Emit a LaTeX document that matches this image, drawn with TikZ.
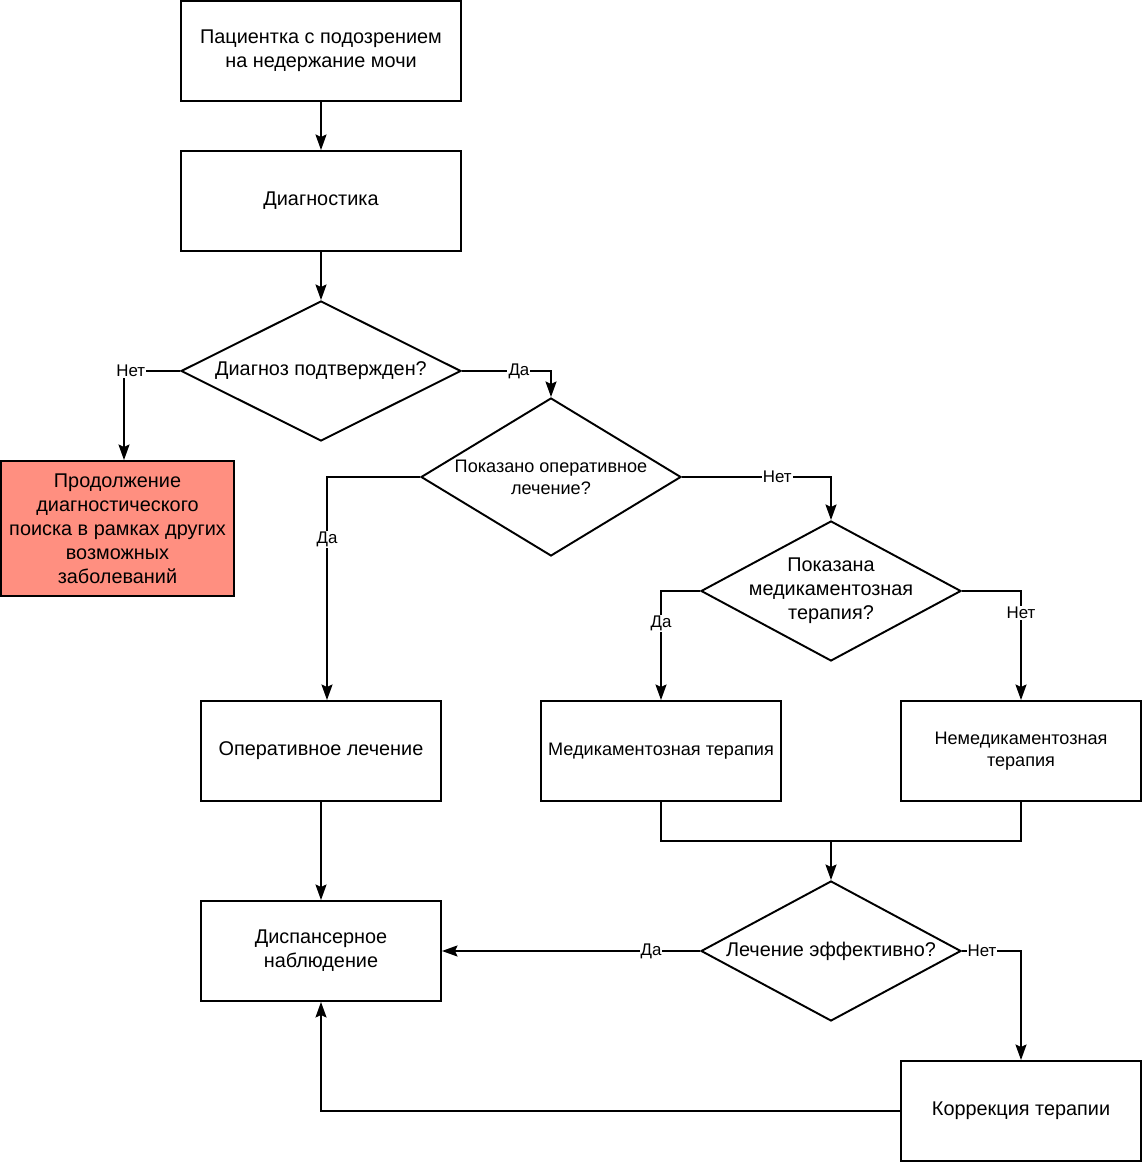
\documentclass[tikz,border=0pt]{standalone}
\usepackage{fontspec}
\setmainfont{Liberation Sans}
\usetikzlibrary{arrows.meta}
\usetikzlibrary{shapes.geometric}
\tikzset{>={Stealth[length=0.31cm,width=0.22cm,inset=0.05cm]}}
\definecolor{searchFill}{RGB}{255,143,128}
\tikzset{
  mainText/.style={font=\fontsize{11.3}{13.7}\selectfont},
  smallText/.style={font=\fontsize{10.3}{12.5}\selectfont},
  box/.style={draw, minimum width=4.8cm, minimum height=2cm, align=center, mainText},
  decision/.style={draw, diamond, minimum width=5.2cm, minimum height=2.8cm, inner sep=0pt},
  answer/.style={fill=white, inner sep=0.6pt, font=\fontsize{9.6}{11}\selectfont}
}

\begin{document}
\begin{tikzpicture}[line width=1.1pt]
\useasboundingbox (0,0) rectangle (22.84,23.24);

\node (patient) at (6.42,22.22) [box,minimum width=5.6cm] {Пациентка с подозрением\\на недержание мочи};
\node (diagnostics) at (6.42,19.22) [box,minimum width=5.6cm] {Диагностика};
\node (confirmed) at (6.42,15.82) [decision,minimum width=5.6cm,label={[mainText]center:Диагноз подтвержден?}] {};
\node (search) at (2.35,12.67) [box,fill=searchFill,minimum width=4.66cm,minimum height=2.7cm] {Продолжение\\диагностического\\поиска в рамках других\\возможных\\заболеваний};
\node (surgeryQ) at (11.02,13.70) [decision,minimum height=3.16cm,label={[smallText,align=center]center:Показано оперативное\\лечение?}] {};
\node (drugQ) at (16.62,11.42) [decision,label={[mainText,align=center]center:Показана\\медикаментозная\\терапия?}] {};
\node (surgery) at (6.42,8.22) [box] {Оперативное лечение};
\node (drugs) at (13.22,8.22) [box,smallText] {Медикаментозная терапия};
\node (nondrugs) at (20.42,8.22) [box,smallText] {Немедикаментозная\\терапия};
\node (effective) at (16.62,4.22) [decision,label={[mainText]center:Лечение эффективно?}] {};
\node (followup) at (6.42,4.22) [box] {Диспансерное\\наблюдение};
\node (correction) at (20.42,1.02) [box] {Коррекция терапии};
\coordinate (merge) at (16.62,6.42);

\draw [->] (patient) -- (diagnostics);
\draw [->] (diagnostics) -- (confirmed);
\draw [->] (confirmed.west) -| node [answer,pos=0.44] {Нет} ([xshift=0.13cm]search.north);
\draw [->] (confirmed.east) -| node [answer,pos=0.32] {Да} (surgeryQ.north);
\draw [->] (surgeryQ.west) -| node [answer,pos=0.64] {Да} ([xshift=0.12cm]surgery.north);
\draw [->] (surgeryQ.east) -| node [answer,pos=0.32] {Нет} (drugQ.north);
\draw [->] (drugQ.west) -| node [answer,pos=0.65] {Да} (drugs.north);
\draw [->] (drugQ.east) -| node [answer,pos=0.6] {Нет} (nondrugs.north);
\draw [->] (surgery) -- (followup);
\draw (drugs.south) |- (merge) -| (nondrugs.south);
\draw [->] (merge) -- (effective.north);
\draw [->] (effective.west) -- node [answer,pos=0.19] {Да} (followup.east);
\draw [->] (effective.east) -| node [answer,pos=0.17] {Нет} (correction.north);
\draw [->] (correction.west) -| (followup.south);

\end{tikzpicture}
\end{document}
